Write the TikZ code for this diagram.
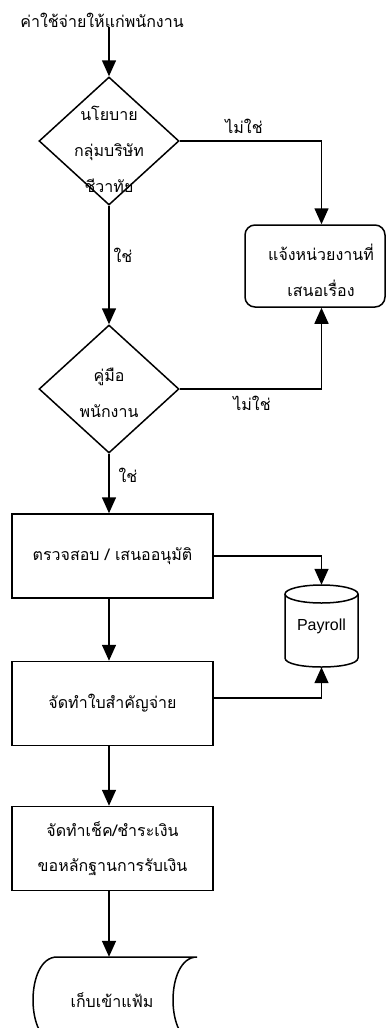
\documentclass[tikz,border=0pt]{standalone}
\usepackage{fontspec}
\newfontfamily\thai[Script=Thai]{Loma}
\setsansfont{Liberation Sans}
\usetikzlibrary{shapes.geometric,arrows.meta,calc}
\begin{document}
\begin{tikzpicture}[x=1pt,y=-1pt,
  lw/.style={line width=1.5pt},
  arr/.style={lw,-{Triangle[length=16pt,width=14pt]}},
  dia/.style={diamond,draw,lw,minimum width=140pt,minimum height=128pt,inner sep=0pt},
  proc/.style={rectangle,draw,lw,minimum width=201pt,minimum height=84pt,inner sep=0pt,font=\thai\fontsize{16}{35}\selectfont,align=center},
  tx/.style={font=\thai\fontsize{16}{36}\selectfont,align=center,inner sep=0pt},
  lab/.style={font=\thai\fontsize{16}{18}\selectfont,inner sep=0pt}]
\useasboundingbox (0,0) rectangle (386,1028);
\clip (0,0) rectangle (386,1028);
% nodes
\node[tx] (t) at (102,20) {ค่าใช้จ่ายให้แก่พนักงาน};
\node[dia] (d1) at (109,141) {};
\node[tx] (d1t) at (109,149) {นโยบาย\\กลุ่มบริษัท\\ชีวาทัย};
\node[draw,lw,rounded corners=10pt,minimum width=140pt,minimum height=82pt,inner sep=0pt] (r) at (315,266) {};
\node[tx] (rt) at (321,270) {แจ้งหน่วยงานที่\\เสนอเรื่อง};
\node[dia] (d2) at (109,389) {};
\node[tx] (d2t) at (109,393) {คู่มือ\\พนักงาน};
\node[proc] (b1) at (112.5,556) {ตรวจสอบ / เสนออนุมัติ};
\node[proc] (b2) at (112.5,703.5) {จัดทำใบสำคัญจ่าย};
\node[proc] (b3) at (112.5,848.5) {จัดทำเช็ค/ชำระเงิน\\ขอหลักฐานการรับเงิน};
\node[minimum width=73pt,minimum height=82pt,inner sep=0pt,font=\sffamily\fontsize{16}{19}\selectfont] (p) at (321.5,626) {Payroll};
\node[minimum width=140pt,minimum height=86pt,inner sep=0pt] (s) at (127,1000) {};
\node[tx] (st) at (112,1000) {เก็บเข้าแฟ้ม};
% cylinder
\draw[lw] (321.5,594) ellipse [x radius=36.5, y radius=9];
\draw[lw] (285,594) -- (285,658) .. controls (285,670) and (358,670) .. (358,658) -- (358,594);
% stored data
\draw[lw] (57,957) -- (197,957) .. controls (165,957) and (165,1043) .. (197,1043) -- (57,1043) .. controls (25,1043) and (25,957) .. (57,957);
% connectors
\draw[arr] (t.south -| d1.north) -- (d1.north);
\draw[arr] (d1.east) -| ([xshift=6.5pt]r.north);
\draw[arr] (d1.south) -- (d2.north);
\draw[arr] (d2.east) -| ([xshift=6.5pt]r.south);
\draw[arr] (d2.south) -- (d2.south |- b1.north);
\draw[arr] (b1.south -| d2.south) -- (b2.north -| d2.south);
\draw[arr] (b1.east) -| (p.north);
\draw[arr] ([yshift=5.5pt]b2.east) -| (p.south);
\draw[arr] (b2.south -| d2.south) -- (b3.north -| d2.south);
\draw[arr] (b3.south -| d2.south) -- (s.north -| d2.south);
% labels
\node[lab] (l1) at (244,126) {ไม่ใช่};
\node[lab] (l2) at (123,255) {ใช่};
\node[lab] (l3) at (252,403) {ไม่ใช่};
\node[lab] (l4) at (128,475) {ใช่};
\end{tikzpicture}
\end{document}
